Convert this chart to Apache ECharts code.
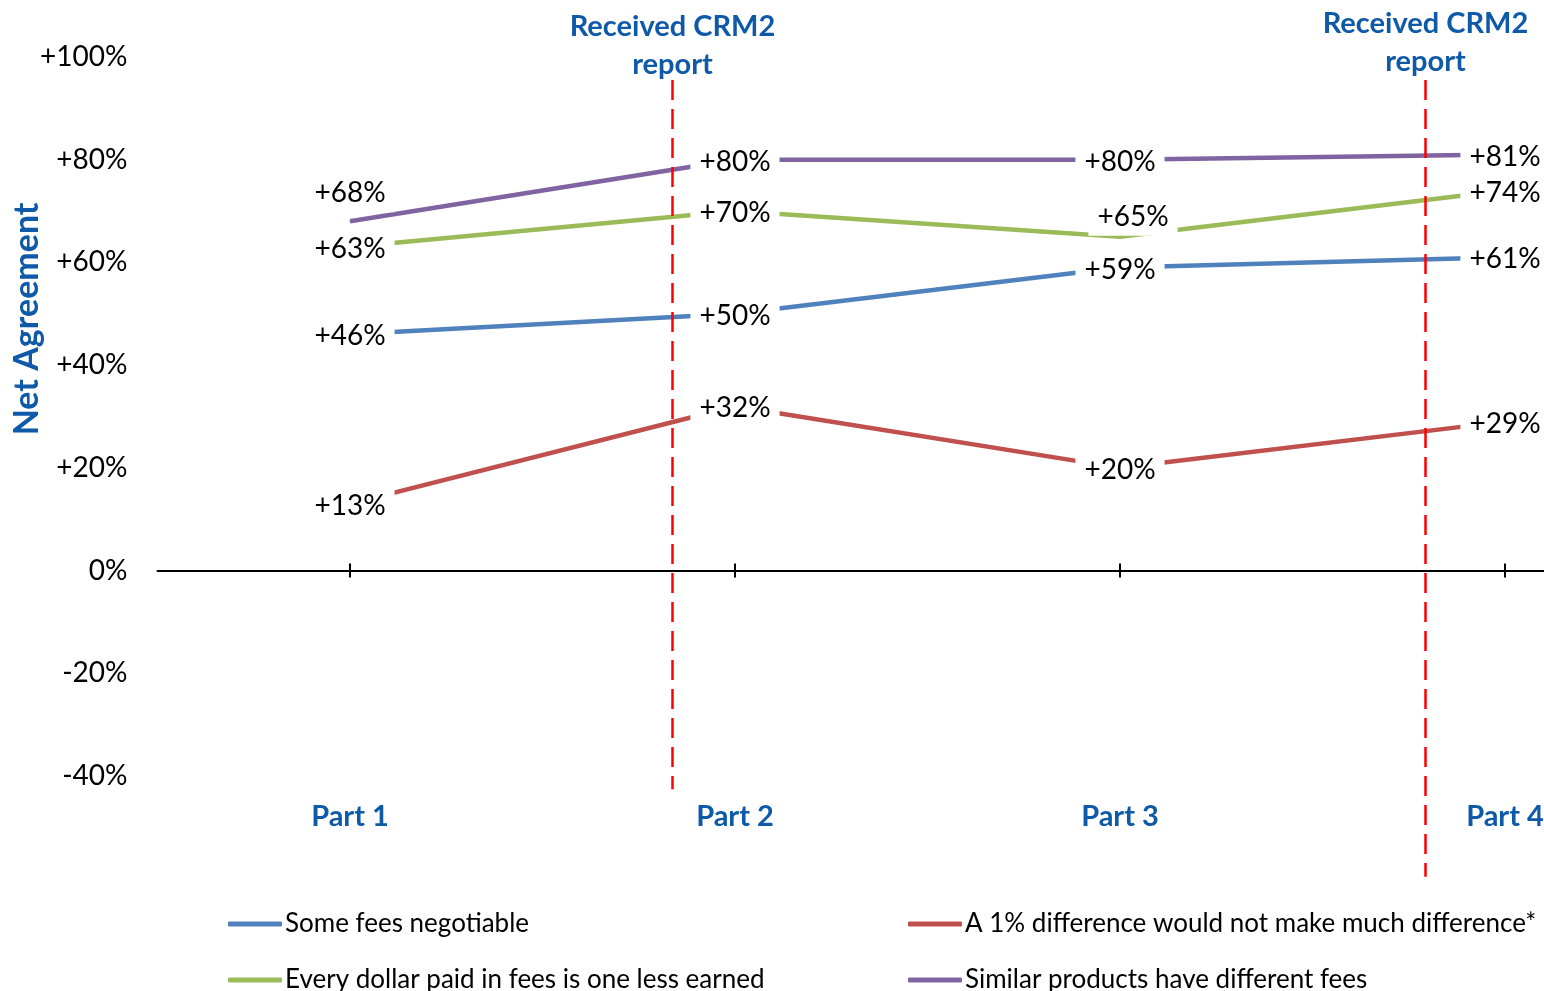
<!DOCTYPE html>
<html>
<head>
<meta charset="utf-8">
<script src="https://cdn.jsdelivr.net/npm/echarts@6/dist/echarts.min.js"></script>
<style>
  html, body { margin: 0; padding: 0; background: #ffffff; }
  #chart { width: 1544px; height: 991px; }
</style>
</head>
<body>
<div id="chart"></div>
<script>
// ---- data ----
const categories = ['Part 1', 'Part 2', 'Part 3', 'Part 4'];
const seriesNames = [
  'Some fees negotiable',
  'A 1% difference would not make much difference*',
  'Every dollar paid in fees is one less earned',
  'Similar products have different fees'
];
const feesNegotiable = [46, 50, 59, 61];
const onePercentDifference = [13, 32, 20, 29];
const everyDollar = [63, 70, 65, 74];
const similarProducts = [68, 80, 80, 81];
const yRange = { min: -40, max: 100, step: 20 };
// CRM2 report receipt, expressed as a position along the Part axis (0 = Part 1)
const crmReportAt = [0.836, 2.792];
const crmReportText = 'Received CRM2\nreport';
const yAxisTitle = 'Net Agreement';

// ---- styling ----
const FONT = 'Lato, "Open Sans", sans-serif';
const BLUE_TEXT = '#0F5AA8';
const seriesColors = ['#4F81BD', '#C0504D', '#9BBB59', '#8064A2'];
const seriesValues = [feesNegotiable, onePercentDifference, everyDollar, similarProducts];
// label nudges (series index - point index); default sits centred on the point
const labelNudge = { '3-0': [0, -28], '2-2': [13, -20] };
// vertical extent of the dashed marker lines, in axis values
const markerExtent = [
  { top: 95.5, bottom: -42.6 },
  { top: 95.5, bottom: -59.6 }
];
const markerTitleValue = [102.2, 102.8];
// legend slots: [left, top] per series
const legendSlots = [[228, 910], [908, 910], [228, 966], [908, 966]];

const chart = echarts.init(document.getElementById('chart'), null, { renderer: 'canvas' });

const fmtPct = v => (v > 0 ? '+' : '') + v + '%';

const series = seriesValues.map((vals, si) => ({
  name: seriesNames[si],
  type: 'line',
  xAxisIndex: 0,
  yAxisIndex: 0,
  data: vals.map((v, i) => ({
    value: v,
    label: { offset: labelNudge[si + '-' + i] || [0, 2] }
  })),
  symbol: 'circle',
  symbolSize: 1,
  showSymbol: true,
  color: seriesColors[si],
  itemStyle: { color: seriesColors[si] },
  lineStyle: { color: seriesColors[si], width: 4.5 },
  emphasis: { disabled: true },
  silent: true,
  animation: false,
  label: {
    show: true,
    position: 'inside',
    formatter: p => fmtPct(p.value),
    color: '#000000',
    fontFamily: FONT,
    fontSize: 28,
    backgroundColor: '#ffffff',
    padding: [5, 9]
  }
}));

const legends = seriesNames.map((name, si) => ({
  left: legendSlots[si][0],
  top: legendSlots[si][1],
  padding: 0,
  orient: 'vertical',
  icon: 'roundRect',
  itemWidth: 54,
  itemHeight: 5,
  selectedMode: false,
  data: [name],
  textStyle: { fontFamily: FONT, fontSize: 26, color: '#000000', lineHeight: 28, padding: [0, 0, 0, -2] }
}));

chart.setOption({
  animation: false,
  backgroundColor: '#ffffff',
  grid: { left: 157.5, top: 57, width: 1540, height: 719, outerBoundsMode: 'none', containLabel: false },
  legend: legends,
  xAxis: [
    {
      type: 'category', data: categories, boundaryGap: true, position: 'bottom',
      axisLine: { show: true, onZero: true, lineStyle: { color: '#000000', width: 2 } },
      axisTick: { show: true, alignWithLabel: true, length: 7, lineStyle: { color: '#000000', width: 2 } },
      axisLabel: { show: false }, splitLine: { show: false }
    },
    {
      type: 'category', data: categories, boundaryGap: true, position: 'bottom',
      axisLine: { show: false, onZero: true, onZeroAxisIndex: 1 },
      axisTick: { show: true, inside: true, alignWithLabel: true, length: 7, lineStyle: { color: '#000000', width: 2 } },
      axisLabel: { show: false }, splitLine: { show: false }
    },
    {
      type: 'category', data: categories, boundaryGap: true, position: 'bottom',
      axisLine: { show: false, onZero: false },
      axisTick: { show: false },
      axisLabel: { show: true, margin: 26, color: BLUE_TEXT, fontFamily: FONT, fontSize: 29, fontWeight: 'bold' },
      splitLine: { show: false }
    }
  ],
  yAxis: [
    {
      type: 'value', min: yRange.min, max: yRange.max, interval: yRange.step,
      axisLine: { show: false }, axisTick: { show: false }, splitLine: { show: false },
      axisLabel: { margin: 30, formatter: fmtPct, color: '#000000', fontFamily: FONT, fontSize: 28 }
    },
    {
      type: 'value', min: yRange.min, max: yRange.max, interval: yRange.step, show: false,
      axisLine: { show: false }, axisTick: { show: false }, splitLine: { show: false }, axisLabel: { show: false }
    }
  ],
  series: series
});

// ---- annotations placed through the axes ----
function xAt(pos) {
  const i = Math.floor(pos);
  const a = chart.convertToPixel({ xAxisIndex: 0 }, i);
  const b = chart.convertToPixel({ xAxisIndex: 0 }, i + 1);
  return a + (b - a) * (pos - i);
}
const yAt = v => chart.convertToPixel({ yAxisIndex: 0 }, v);

const graphics = [];
crmReportAt.forEach((pos, k) => {
  const x = Math.round(xAt(pos)) + 0.5;
  graphics.push({
    type: 'line', silent: true, z: 10,
    shape: { x1: x, y1: yAt(markerExtent[k].top), x2: x, y2: yAt(markerExtent[k].bottom) },
    style: { stroke: '#FF0000', lineWidth: 2.5, lineDash: [20, 9] }
  });
  graphics.push({
    type: 'text', silent: true, z: 10,
    x: x, y: yAt(markerTitleValue[k]),
    style: {
      text: crmReportText, fill: BLUE_TEXT, font: 'bold 29px ' + FONT,
      align: 'center', verticalAlign: 'middle', lineHeight: 38
    }
  });
});
graphics.push({
  type: 'text', silent: true,
  x: 27, y: yAt(49), rotation: Math.PI / 2,
  style: {
    text: yAxisTitle, fill: BLUE_TEXT, font: 'bold 34px ' + FONT,
    align: 'center', verticalAlign: 'middle'
  }
});
chart.setOption({ graphic: graphics });
</script>
</body>
</html>
